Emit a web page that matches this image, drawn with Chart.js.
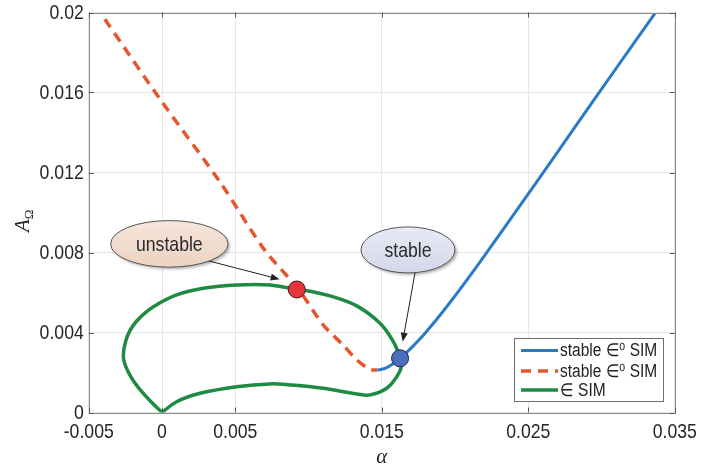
<!DOCTYPE html>
<html><head><meta charset="utf-8">
<script src="https://cdn.jsdelivr.net/npm/chart.js@4/dist/chart.umd.min.js"></script>
<style>html,body{margin:0;padding:0;background:#fff;}canvas{display:block;}</style>
</head><body>
<canvas id="c" width="715" height="471"></canvas>
<script>
// ---- data ----
const xTicks = [-0.005, 0, 0.005, 0.015, 0.025, 0.035];
const xTickLabels = ['-0.005', '0', '0.005', '0.015', '0.025', '0.035'];
const yTicks = [0, 0.004, 0.008, 0.012, 0.016, 0.02];
const yTickLabels = ['0', '0.004', '0.008', '0.012', '0.016', '0.02'];

const seriesLabels = ['stable \u2208\u2070 SIM', 'stable \u2208\u2070 SIM', '\u2208 SIM'];

const blueX = [0.0147, 0.0152, 0.0157, 0.01625, 0.0170, 0.0180, 0.0195, 0.0217, 0.02535, 0.02853, 0.0308, 0.03365];
const blueY = [0.00212, 0.00220, 0.00240, 0.00271, 0.00322, 0.00400, 0.00535, 0.00752, 0.01129, 0.01463, 0.01700, 0.01996];

const orangeX = [-0.0039, -0.0001, 0.0040, 0.0070, 0.0093, 0.0110, 0.01235, 0.0133, 0.0142, 0.0147];
const orangeY = [0.01966, 0.01563, 0.01148, 0.00813, 0.00618, 0.00438, 0.00338, 0.00263, 0.00216, 0.00212];

const greenX = [0, -0.0007, -0.00135, -0.0019, -0.00232, -0.00257, -0.00264, -0.00255, -0.00232, -0.00195, -0.00145, -0.00059, 0.001, 0.00282, 0.0051, 0.00737, 0.0092, 0.0101, 0.01147, 0.01329, 0.01488, 0.01579, 0.01625, 0.01632, 0.01602, 0.01534, 0.0142, 0.01329, 0.01101, 0.00874, 0.00737, 0.0051, 0.0026, 0.001, 0];
const greenY = [0, 0.0005, 0.00102, 0.00152, 0.00205, 0.0025, 0.00285, 0.00335, 0.0039, 0.00437, 0.00478, 0.00529, 0.00588, 0.00621, 0.00638, 0.00638, 0.00615, 0.00606, 0.00583, 0.00533, 0.00446, 0.00354, 0.00271, 0.00225, 0.00179, 0.00121, 0.00088, 0.00093, 0.00121, 0.00138, 0.00143, 0.00129, 0.00096, 0.00054, 0];

const unstablePointX = [0.0092];
const unstablePointY = [0.00615];
const stablePointX = [0.01625];
const stablePointY = [0.00271];

const annotationTexts = ['unstable', 'stable'];

// ---- styling ----
const FONT = '"Liberation Sans", Arial, sans-serif';
const NARROW = 0.84;
const BLUE = '#2a7bc6';
const ORANGE = '#e4572e';
const GREEN = '#1f8a43';

const toPts = (xs, ys) => xs.map((x, i) => ({x: x, y: ys[i]}));

const annotations = [
  {text: annotationTexts[0], cx: 0.0005, cy: 0.00843, rx: 58.7, ry: 23.3,
   fillTop: '#f6e6dc', fillBot: '#ecd2c2',
   from: [0.00292, 0.00763], to: [0.00803, 0.00666]},
  {text: annotationTexts[1], cx: 0.01679, cy: 0.00813, rx: 47, ry: 23,
   fillTop: '#e8eaf5', fillBot: '#d3d7e9',
   from: [0.01727, 0.00698], to: [0.01643, 0.00354]}
];

function narrowText(ctx, text, x, y, align, sx) {
  ctx.save();
  ctx.translate(x, y);
  ctx.scale(sx, 1);
  ctx.textAlign = align;
  ctx.fillText(text, 0, 0);
  ctx.restore();
}

function arrow(ctx, x1, y1, x2, y2) {
  ctx.save();
  ctx.strokeStyle = '#222'; ctx.fillStyle = '#222'; ctx.lineWidth = 1;
  const a = Math.atan2(y2 - y1, x2 - x1);
  const L = 9, W = 3.5;
  const bx = x2 - L * Math.cos(a), by = y2 - L * Math.sin(a);
  ctx.beginPath(); ctx.moveTo(x1, y1); ctx.lineTo(bx, by); ctx.stroke();
  ctx.beginPath();
  ctx.moveTo(x2, y2);
  ctx.lineTo(bx + W * Math.sin(a), by - W * Math.cos(a));
  ctx.lineTo(bx - W * Math.sin(a), by + W * Math.cos(a));
  ctx.closePath(); ctx.fill();
  ctx.restore();
}

const decor = {
  id: 'decor',
  beforeDraw(chart) {
    const ctx = chart.ctx;
    ctx.save(); ctx.fillStyle = '#fff'; ctx.fillRect(0, 0, chart.width, chart.height); ctx.restore();
  },
  afterDatasetsDraw(chart) {
    const ctx = chart.ctx, xs = chart.scales.x, ys = chart.scales.y, ca = chart.chartArea;
    // frame and inward ticks
    ctx.save();
    ctx.strokeStyle = '#8a8a8a'; ctx.lineWidth = 1;
    ctx.strokeRect(Math.round(ca.left) + 0.5, Math.round(ca.top) + 0.5, Math.round(ca.right - ca.left), Math.round(ca.bottom - ca.top));
    ctx.strokeStyle = '#555';
    ctx.beginPath();
    xs.ticks.forEach(t => {
      const px = Math.round(xs.getPixelForValue(t.value)) + 0.5;
      ctx.moveTo(px, ca.bottom); ctx.lineTo(px, ca.bottom - 5);
      ctx.moveTo(px, ca.top); ctx.lineTo(px, ca.top + 5);
    });
    ys.ticks.forEach(t => {
      const py = Math.round(ys.getPixelForValue(t.value)) + 0.5;
      ctx.moveTo(ca.left, py); ctx.lineTo(ca.left + 5, py);
      ctx.moveTo(ca.right, py); ctx.lineTo(ca.right - 5, py);
    });
    ctx.stroke();
    ctx.restore();

    // tick labels (condensed like the reference)
    ctx.save();
    ctx.fillStyle = '#262626'; ctx.font = '21px ' + FONT; ctx.textBaseline = 'middle';
    xs.ticks.forEach((t, i) => narrowText(ctx, xTickLabels[i], xs.getPixelForValue(t.value), ca.bottom + 20, 'center', NARROW));
    ys.ticks.forEach((t, i) => narrowText(ctx, yTickLabels[i], ca.left - 5, ys.getPixelForValue(t.value) + 1, 'right', NARROW));
    ctx.restore();

    // annotations: arrows then ellipses
    annotations.forEach(an => {
      arrow(ctx, xs.getPixelForValue(an.from[0]), ys.getPixelForValue(an.from[1]),
                 xs.getPixelForValue(an.to[0]), ys.getPixelForValue(an.to[1]));
    });
    annotations.forEach(an => {
      const cx = xs.getPixelForValue(an.cx), cy = ys.getPixelForValue(an.cy);
      ctx.save();
      const g = ctx.createLinearGradient(0, cy - an.ry, 0, cy + an.ry);
      g.addColorStop(0, an.fillTop); g.addColorStop(1, an.fillBot);
      ctx.shadowColor = 'rgba(0,0,0,0.3)'; ctx.shadowBlur = 3; ctx.shadowOffsetX = 2; ctx.shadowOffsetY = 2;
      ctx.beginPath(); ctx.ellipse(cx, cy, an.rx, an.ry, 0, 0, Math.PI * 2);
      ctx.fillStyle = g; ctx.fill();
      ctx.shadowColor = 'transparent';
      ctx.strokeStyle = '#555'; ctx.lineWidth = 1; ctx.stroke();
      ctx.fillStyle = '#2a2a2a'; ctx.font = '21px ' + FONT;
      ctx.textBaseline = 'middle';
      narrowText(ctx, an.text, cx, cy + 1, 'center', NARROW);
      ctx.restore();
    });

    // legend
    const lx = 514, ly = 338, lw = 149, lh = 63;
    ctx.save();
    ctx.fillStyle = '#fff'; ctx.fillRect(lx, ly, lw, lh);
    ctx.strokeStyle = '#6e6e6e'; ctx.lineWidth = 1; ctx.strokeRect(lx + 0.5, ly + 0.5, lw, lh);
    const rows = [350.5, 371, 390];
    for (let i = 0; i < 3; i++) {
      const ds = chart.data.datasets[i];
      ctx.strokeStyle = ds.borderColor; ctx.lineWidth = ds.borderWidth;
      ctx.setLineDash(ds.borderDash || []);
      ctx.beginPath(); ctx.moveTo(521, rows[i]); ctx.lineTo(558, rows[i]); ctx.stroke();
      ctx.setLineDash([]);
      ctx.fillStyle = '#222'; ctx.font = '18px ' + FONT;
      ctx.textBaseline = 'middle';
      narrowText(ctx, ds.label, 560, rows[i] + 1, 'left', 0.86);
    }
    ctx.restore();

    // axis titles
    ctx.save();
    ctx.fillStyle = '#222';
    ctx.font = 'italic 21px "Liberation Serif", "DejaVu Serif", serif';
    ctx.textAlign = 'center'; ctx.textBaseline = 'alphabetic';
    ctx.fillText('\u03b1', (ca.left + ca.right) / 2, 463);
    ctx.translate(29, 221); ctx.rotate(-Math.PI / 2);
    ctx.textAlign = 'left';
    const wA = ctx.measureText('A').width;
    ctx.fillText('A', -11, 0);
    ctx.font = '13px "Liberation Serif", "DejaVu Serif", serif';
    ctx.fillText('\u03a9', -11 + wA, 4);
    ctx.restore();
  }
};

new Chart(document.getElementById('c'), {
  type: 'scatter',
  data: {
    datasets: [
      {label: seriesLabels[0], data: toPts(blueX, blueY), showLine: true, borderColor: BLUE, borderWidth: 3, pointRadius: 0, tension: 0.3, order: 1, fill: false},
      {label: seriesLabels[1], data: toPts(orangeX, orangeY), showLine: true, borderColor: ORANGE, borderWidth: 3.5, borderDash: [10, 7], pointRadius: 0, tension: 0.3, order: 2, fill: false},
      {label: seriesLabels[2], data: toPts(greenX, greenY), showLine: true, borderColor: GREEN, borderWidth: 3.5, pointRadius: 0, tension: 0.4, order: 3, fill: false},
      {label: 'unstable point', data: toPts(unstablePointX, unstablePointY), pointRadius: 8.5, backgroundColor: '#e8343a', borderColor: '#3a2020', borderWidth: 1, order: 0},
      {label: 'stable point', data: toPts(stablePointX, stablePointY), pointRadius: 8.5, backgroundColor: '#4a6fc0', borderColor: '#20284a', borderWidth: 1, order: 0}
    ]
  },
  options: {
    responsive: false,
    animation: false,
    layout: {padding: {left: 0, right: 40.25, top: 12.5, bottom: 0}},
    plugins: {legend: {display: false}, tooltip: {enabled: false}},
    scales: {
      x: {
        type: 'linear', min: -0.005, max: 0.035,
        afterBuildTicks: s => { s.ticks = xTicks.map(v => ({value: v})); },
        afterFit: s => { s.height = 58.5; },
        grid: {color: '#e6e6e6', drawTicks: false, lineWidth: 1},
        border: {display: false},
        ticks: {display: false, callback: (v, i) => xTickLabels[i]}
      },
      y: {
        type: 'linear', min: 0, max: 0.02,
        afterBuildTicks: s => { s.ticks = yTicks.map(v => ({value: v})); },
        afterFit: s => { s.width = 88.75; },
        grid: {color: '#e6e6e6', drawTicks: false, lineWidth: 1},
        border: {display: false},
        ticks: {display: false, callback: (v, i) => yTickLabels[i]}
      }
    }
  },
  plugins: [decor]
});
</script>
</body></html>
